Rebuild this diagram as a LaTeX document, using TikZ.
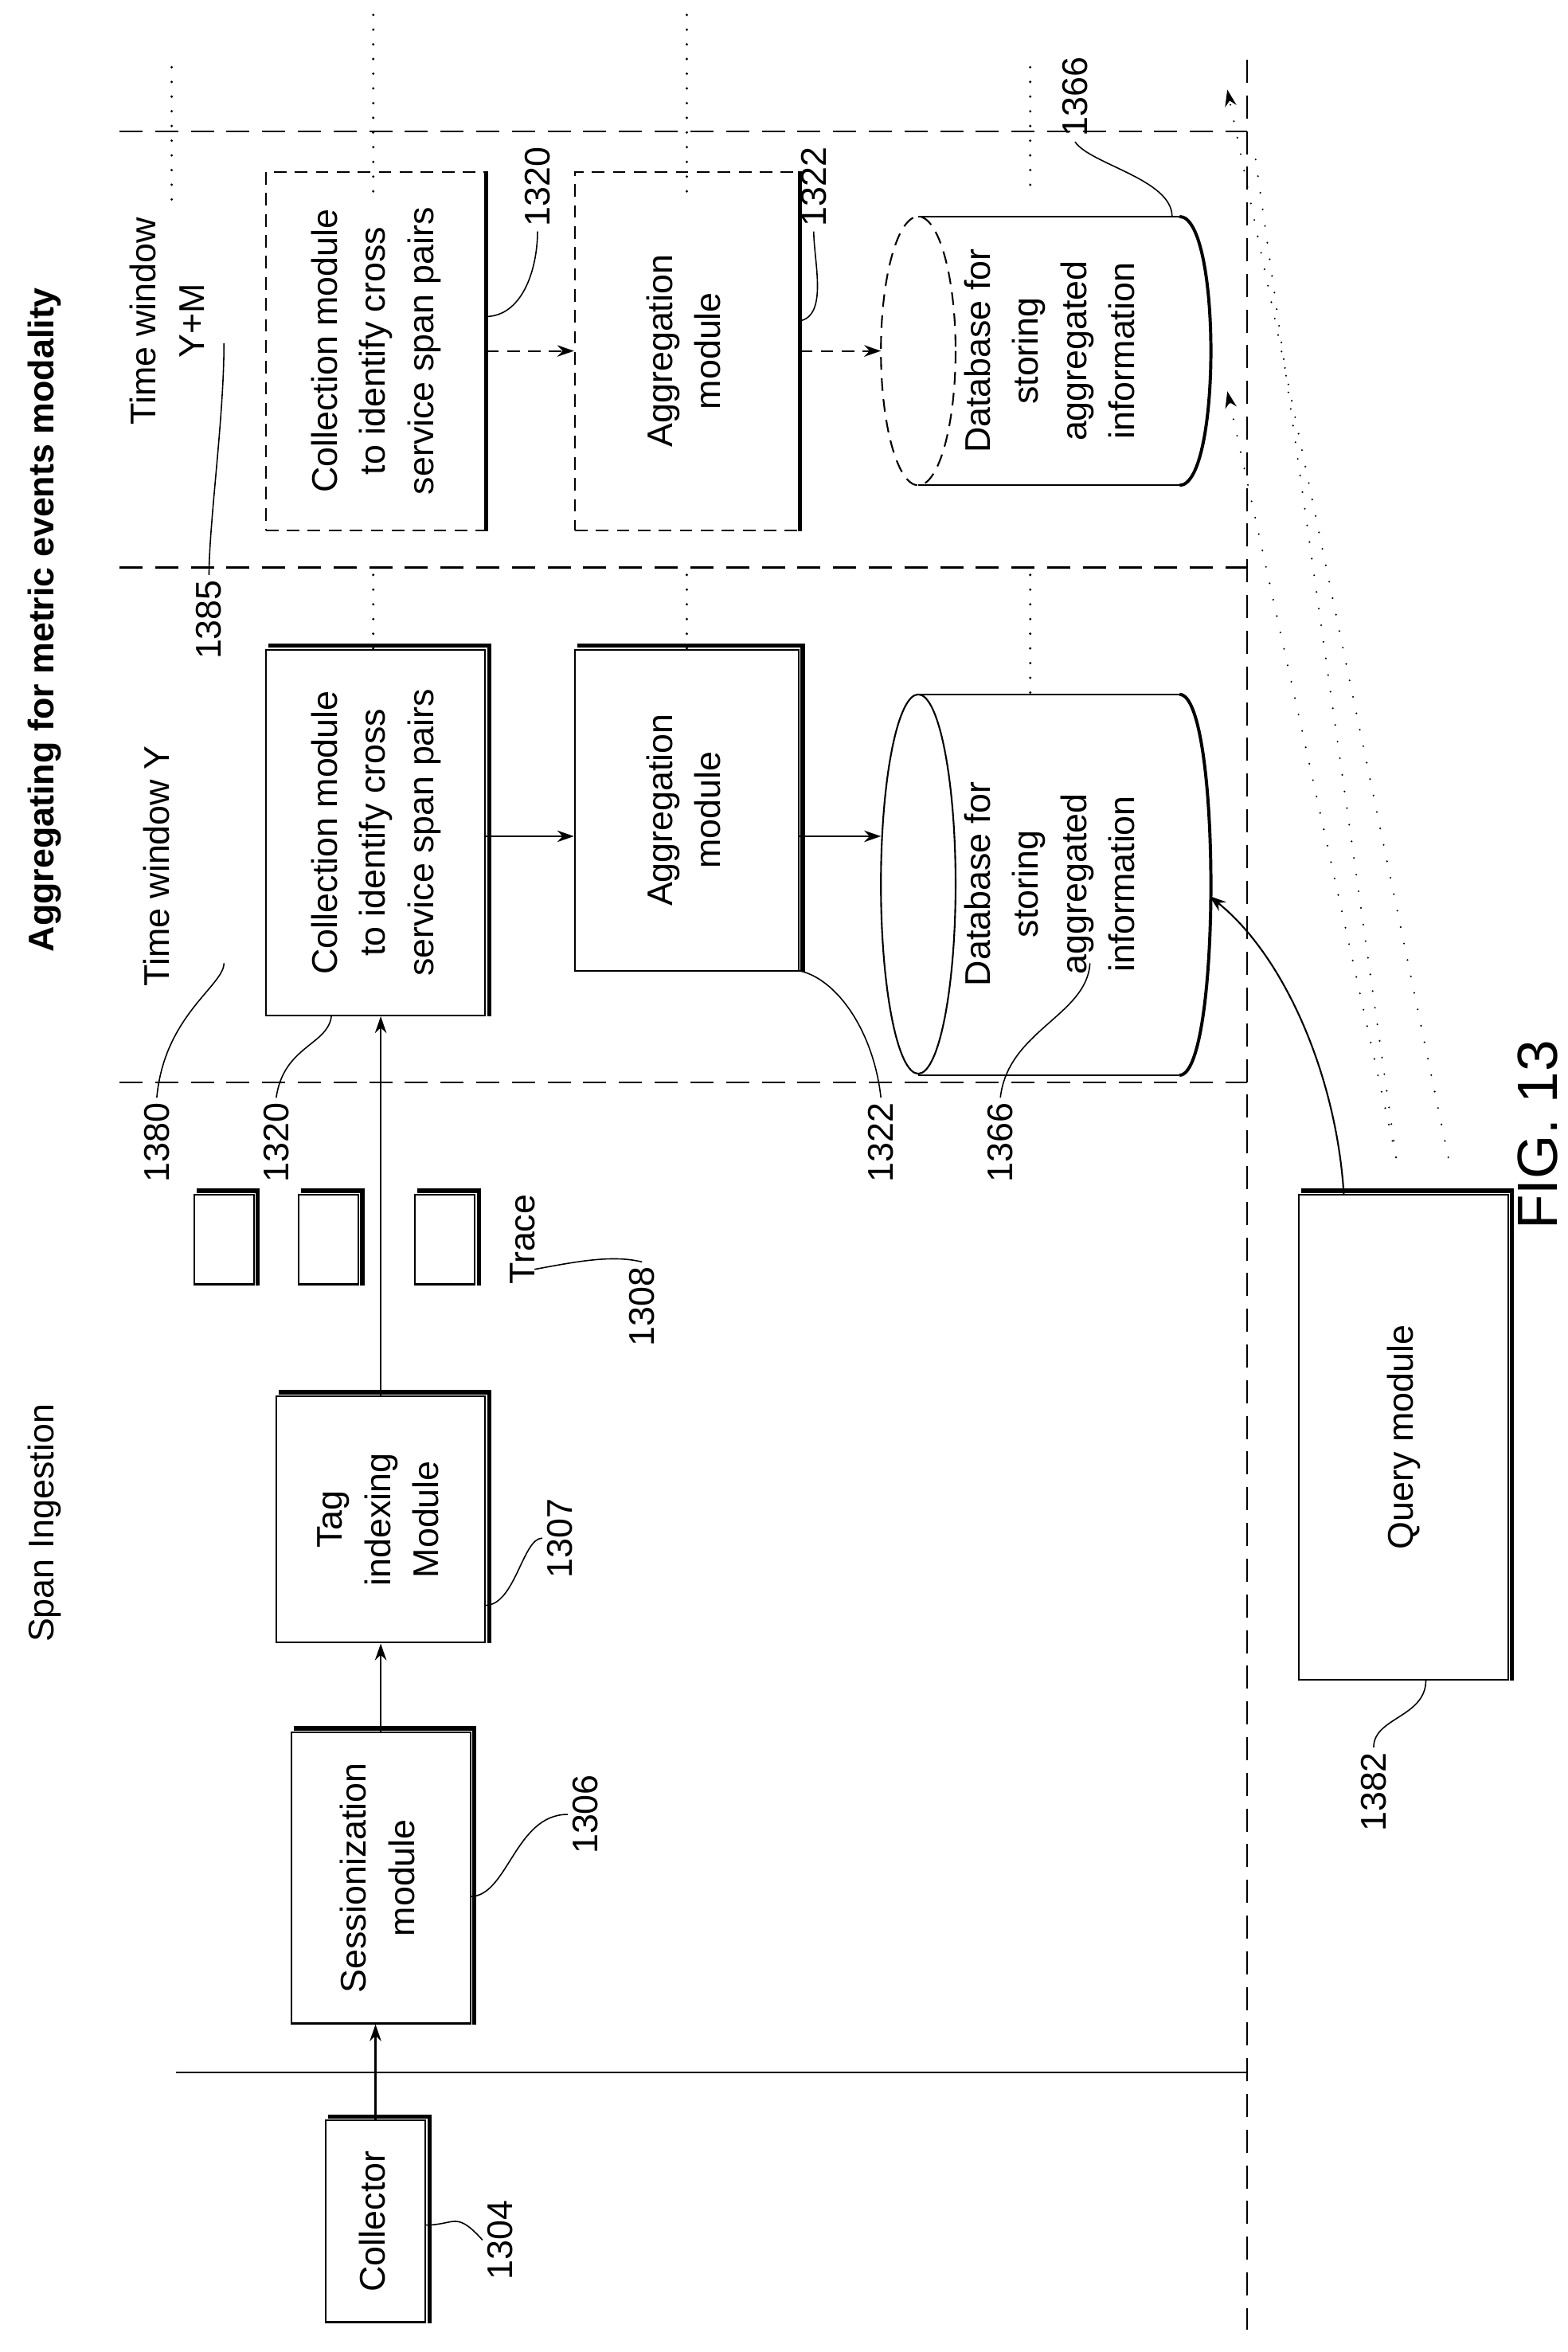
\documentclass[tikz,border=0pt]{standalone}
\usepackage{fontspec}
\setmainfont{Liberation Sans}
\usetikzlibrary{arrows.meta}
\begin{document}
\begin{tikzpicture}[x=0.05cm,y=-0.05cm,line width=1.6pt,
  font=\fontsize{34}{46}\selectfont,
  box/.style={draw,rectangle,inner sep=0pt,align=center},
  dbox/.style={box,dash pattern=on 12pt off 8pt},
  arr/.style={-{Stealth[length=16pt,width=11pt]}},
  dl/.style={dash pattern=on 22pt off 12pt},
  dot/.style={line width=2.5pt,dash pattern=on 0pt off 14pt,line cap=round},
  fdot/.style={line width=1.8pt,dash pattern=on 0pt off 16pt,line cap=round},
  lab/.style={inner sep=4pt},
  lead/.style={line width=1.2pt}]
\useasboundingbox (0,0) rectangle (1050,1575);
\newcommand{\shad}[1]{\draw[line width=4pt] ([xshift=3pt,yshift=3pt]#1.north west) -- ([xshift=3pt,yshift=3pt]#1.north east) -- ([xshift=3pt]#1.south east);}
\newcommand{\R}[1]{\rotatebox{90}{\begin{tabular}{c}#1\end{tabular}}}
% lines
\draw[dl] (835,40) -- (835,1560);
\draw[dl] (80,88) -- (835,88);
\draw[dl] (80,380) -- (835,380);
\draw[dl] (80,725) -- (835,725);
\draw (118,1388) -- (835,1388);
\foreach \x/\a/\b in {115/45/140,250/10/130,460/10/130,690/45/130}
  \draw[dot] (\x,\a) -- (\x,\b);
\foreach \x/\a/\b in {250/385/435,460/385/435,690/385/470}
  \draw[dot] (\x,\a) -- (\x,\b);
% boxes
\node[box,minimum width=3.35cm,minimum height=6.75cm] (col) at (251.5,1487.5) {\R{Collector}};
\node[box,minimum width=6cm,minimum height=9.75cm] (ses) at (255,1257.5) {\R{Sessionization\\module}};
\node[box,minimum width=7cm,minimum height=8.25cm] (tag) at (255,1017.5) {\R{Tag\\indexing\\Module}};
\node[box,minimum width=7.35cm,minimum height=12.25cm] (cy) at (251.5,557.5) {\R{Collection module\\to identify cross\\service span pairs}};
\node[box,minimum width=7.5cm,minimum height=10.75cm] (ay) at (460,542.5) {\R{Aggregation\\module}};
\node[dbox,minimum width=7.35cm,minimum height=12cm] (cm) at (251.5,235) {\R{Collection module\\to identify cross\\service span pairs}};
\node[dbox,minimum width=7.5cm,minimum height=12cm] (am) at (460,235) {\R{Aggregation\\module}};
\node[box,minimum width=7cm,minimum height=16.25cm] (q) at (940,962.5) {\R{Query module}};
\foreach \n in {col,ses,tag,cy,ay,q} {\shad{\n}}
\draw[line width=4pt] (cm.north east) -- (cm.south east);
\draw[line width=4pt] (am.north east) -- (am.south east);
% trace pages
\foreach \x [count=\i] in {150,220,298} {
  \node[box,minimum width=2cm,minimum height=3cm] (t\i) at (\x,830) {};
  \shad{t\i}}
% databases
\node[minimum width=10.75cm,minimum height=12.75cm,inner sep=0pt] (dby) at (700,592) {};
\draw (615,465) -- (790,465) (615,720) -- (790,720);
\draw (615,592) ellipse [x radius=25,y radius=127];
\draw[line width=3pt] (790,465) .. controls (818,465) and (818,720) .. (790,720);
\node at (705,592) {\R{Database for\\storing\\aggregated\\information}};
\node[minimum width=10.75cm,minimum height=9cm,inner sep=0pt] (dbm) at (700,235) {};
\draw (615,145) -- (790,145) (615,325) -- (790,325);
\draw[dash pattern=on 12pt off 8pt] (615,235) ellipse [x radius=25,y radius=90];
\draw[line width=3pt] (790,145) .. controls (818,145) and (818,325) .. (790,325);
\node at (705,235) {\R{Database for\\storing\\aggregated\\information}};
% arrows
\draw[arr] (col.north) -- (col.north |- ses.south);
\draw[arr] (ses.north) -- (ses.north |- tag.south);
\draw[arr] (tag.north) -- (tag.north |- cy.south);
\draw[arr] (cy.east |- 0,560) -- (ay.west |- 0,560);
\draw[arr] (ay.east |- 0,560) -- (590,560);
\draw[arr,dash pattern=on 12pt off 8pt] (cm.east) -- (am.west);
\draw[arr,dash pattern=on 12pt off 8pt] (am.east) -- (590,235);
\draw[arr] (q.north -| 900,0) .. controls (895,720) and (860,640) .. (810,600);
% dotted lines from query
\draw[fdot,-{Stealth[length=16pt,width=11pt]}] (935,775) -- (822,262);
\draw[fdot,-{Stealth[length=16pt,width=11pt]}] (970,775) -- (822,60);
\draw[fdot] (935,775) -- (840,100);
% texts
\node[rotate=90] (si) at (30,1020) {Span Ingestion};
\node[rotate=90,font=\fontsize{34}{40}\selectfont\bfseries] (ag) at (30,415) {Aggregating for metric events modality};
\node[rotate=90] (twy) at (105,580) {Time window Y};
\node[rotate=90,align=center] (twm) at (112,215) {Time window\\Y+M};
\node[rotate=90,font=\fontsize{54}{54}\selectfont] (fig) at (1030,760) {FIG. 13};
\node[rotate=90] (trace) at (350,830) {Trace};
\node[rotate=90,lab] (n1304) at (335,1500) {1304};
\node[rotate=90,lab] (n1306) at (392,1215) {1306};
\node[rotate=90,lab] (n1307) at (375,1030) {1307};
\node[rotate=90,lab] (n1308) at (430,875) {1308};
\node[rotate=90,lab] (n1380) at (105,765) {1380};
\node[rotate=90,lab] (n1320) at (185,765) {1320};
\node[rotate=90,lab] (n1322) at (590,765) {1322};
\node[rotate=90,lab] (n1366) at (670,765) {1366};
\node[rotate=90,lab] (n1382) at (920,1200) {1382};
\node[rotate=90,lab] (n1385) at (140,415) {1385};
\node[rotate=90,lab] (n1320b) at (360,125) {1320};
\node[rotate=90,lab] (n1322b) at (545,125) {1322};
\node[rotate=90,lab] (n1366b) at (720,65) {1366};
% leaders
\draw[lead] (285,1490) .. controls (305,1490) and (305,1480) .. (n1304.north);
\draw[lead] (315,1270) .. controls (340,1270) and (345,1215) .. (n1306.north);
\draw[lead] (325,1075) .. controls (345,1075) and (350,1030) .. (n1307.north);
\draw[lead] (358,850) .. controls (385,845) and (410,840) .. (n1308.east);
\draw[lead] (n1380.east) .. controls (110,680) and (150,660) .. (150,645);
\draw[lead] (n1320.east) .. controls (190,700) and (220,700) .. (222,680);
\draw[lead] (535,650) .. controls (560,655) and (585,690) .. (n1322.east);
\draw[lead] (730,645) .. controls (728,680) and (675,690) .. (n1366.east);
\draw[lead] (955,1125) .. controls (955,1150) and (920,1150) .. (n1382.east);
\draw[lead] (n1385.east) .. controls (140,350) and (150,280) .. (150,230);
\draw[lead] (325,212) .. controls (350,212) and (360,180) .. (n1320b.west);
\draw[lead] (535,215) .. controls (555,212) and (545,175) .. (n1322b.west);
\draw[lead] (n1366b.west) .. controls (730,110) and (785,120) .. (785,145);
\end{tikzpicture}
\end{document}
